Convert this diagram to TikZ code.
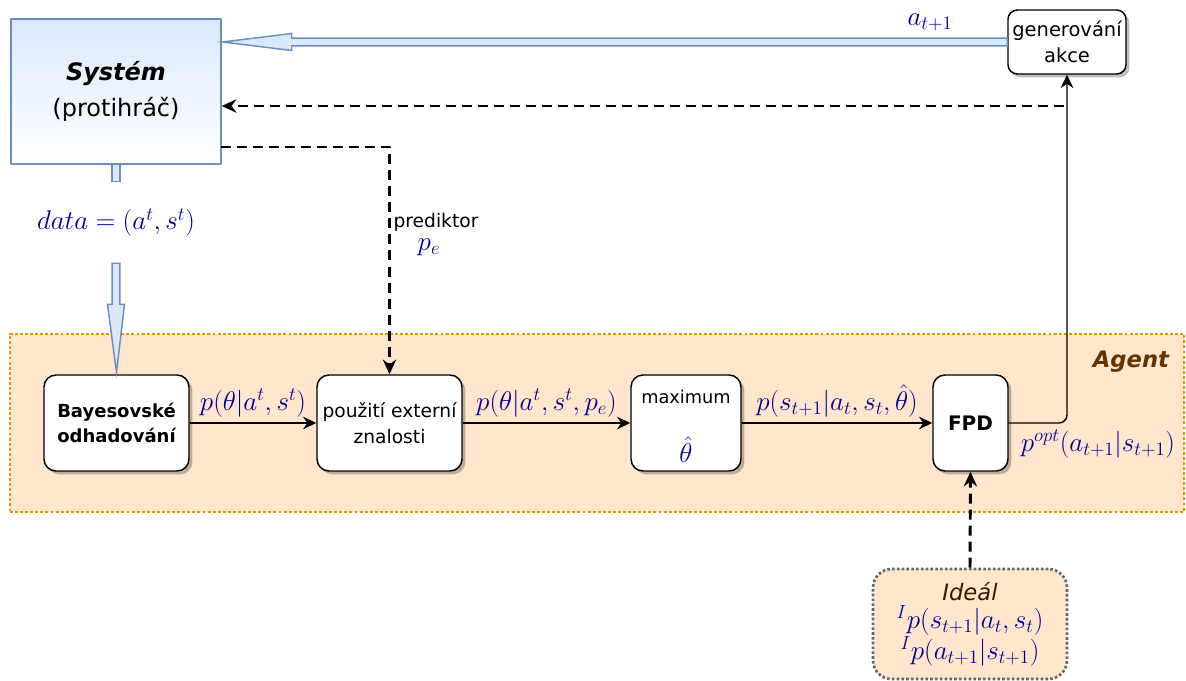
\RequirePackage{fix-cm}
\documentclass[tikz,border=0pt]{standalone}
\usepackage{fontspec}
\setmainfont{DejaVu Sans}
\usetikzlibrary{arrows.meta,calc,shadows}

\definecolor{mathblue}{RGB}{0,0,153}
\definecolor{sysline}{RGB}{108,142,191}
\definecolor{sysfill}{RGB}{218,232,252}
\definecolor{agentfill}{RGB}{255,230,204}
\definecolor{agentline}{RGB}{215,155,0}
\definecolor{agentbrown}{RGB}{102,51,0}
\definecolor{idealbrown}{RGB}{51,26,0}
\definecolor{idealline}{RGB}{102,102,102}

\tikzset{
  box/.style={draw=black, line width=1.1pt, fill=white, rounded corners=9pt,
    align=center, inner sep=2pt, minimum width=108.75pt, minimum height=72pt,
    drop shadow={shadow xshift=2.5pt, shadow yshift=-2.5pt, fill=black, opacity=0.25},
    font=\fontsize{14}{19}\selectfont},
  boldbox/.style={box, font=\fontsize{13.5}{19}\selectfont\bfseries},
  sysbox/.style={draw=sysline, line width=1.1pt, top color=sysfill, bottom color=white,
    minimum width=157.5pt, minimum height=108.75pt, align=center,
    font=\fontsize{18}{27}\selectfont},
  agentbox/.style={draw=agentline, fill=agentfill, line width=2.2pt,
    dash pattern=on 2.2pt off 1.6pt, minimum width=880.5pt, minimum height=133.5pt,
    inner sep=0pt},
  idealbox/.style={draw=idealline, fill=agentfill, line width=2pt,
    dash pattern=on 2pt off 1.6pt, rounded corners=14pt, align=center,
    minimum width=145.5pt, minimum height=82.5pt, inner sep=0pt,
    font=\fontsize{20.3}{21}\selectfont, text=mathblue},
  mathlab/.style={text=mathblue, inner sep=1pt, font=\fontsize{20.3}{22}\selectfont},
  txt/.style={inner sep=1pt, font=\fontsize{14}{19}\selectfont},
  arr/.style={draw, line width=1.1pt, -{Stealth[length=10pt,width=9.5pt]}},
  dasharr/.style={draw, line width=2.2pt, dash pattern=on 7.5pt off 4.5pt,
    -{Stealth[length=11pt,width=10pt]}},
  blockarr/.style={draw=sysline, fill=sysfill, line width=1.1pt, line join=miter},
}

\begin{document}
\begin{tikzpicture}[x=0.75pt,y=-0.75pt,line join=round]
  \useasboundingbox (0,0) rectangle (1186,681);
  %% agent area
  \node[agentbox] (agent) at (597,423) {};
  \node[font=\fontsize{17}{20}\selectfont\bfseries\itshape, text=agentbrown] (agentlbl) at (1131,362) {Agent};
  %% boxes
  \node[sysbox] (sys) at (116,91.5) {\textbf{\textit{Systém}}\\(protihráč)};
  \node[box, minimum width=88.5pt, minimum height=48pt, rounded corners=7pt,
    font=\fontsize{14.6}{19.5}\selectfont] (gen) at (1067,42) {generování\\akce};
  \node[boldbox] (bayes) at (116.5,423) {Bayesovské\\odhadování};
  \node[box] (ext) at (389.5,423) {použití externí\\znalosti};
  \node[box, minimum width=82.5pt] (maxim) at (686,423) {};
  \node[txt, font=\fontsize{13.3}{16}\selectfont] (maxlbl) at (686,397) {maximum};
  \node[mathlab] (thetahat) at (686,450) {$\hat\theta$};
  \node[boldbox, minimum width=56.25pt, font=\fontsize{15}{19}\selectfont\bfseries] (fpd) at (970.5,423) {FPD};
  \node[idealbox] (ideal) at (970,624)
    {{\fontsize{17}{20}\selectfont\itshape\color{idealbrown}Ideál}\\
     ${}^{I}p(s_{t+1}|a_t,s_t)$\\ ${}^{I}p(a_{t+1}|s_{t+1})$};
  \node[mathlab, minimum height=60.75pt] (data) at (116,222.5) {$data=(a^t,s^t)$};
  %% block arrows
  \draw[blockarr] let \p1=(sys.south), \p2=(data.north) in
    (\x1-2.9pt,\y1) rectangle (\x2+2.9pt,\y2);
  \draw[blockarr] let \p1=(data.south), \p2=(bayes.north) in
    (\x1-2.9pt,\y1) -- (\x1-2.9pt,\y2+52.5pt) -- (\x1-6.4pt,\y2+52.5pt) -- (\x2,\y2+1.5pt)
    -- (\x1+6.4pt,\y2+52.5pt) -- (\x1+2.9pt,\y2+52.5pt) -- (\x1+2.9pt,\y1) -- cycle;
  \draw[blockarr] let \p1=(gen.west), \p2=(sys.east) in
    (\x1,\y1+2.9pt) -- (\x2+52.5pt,\y1+2.9pt) -- (\x2+52.5pt,\y1+6.4pt) -- (\x2+0.8pt,\y1)
    -- (\x2+52.5pt,\y1-6.4pt) -- (\x2+52.5pt,\y1-2.9pt) -- (\x1,\y1-2.9pt) -- cycle;
  \node[mathlab] (alab) at (930,22) {$a_{t+1}$};
  %% flow inside agent
  \draw[arr] (bayes) -- node[mathlab, above=3pt] {$p(\theta|a^t,s^t)$} (ext);
  \draw[arr] (ext) -- node[mathlab, above=3pt] {$p(\theta|a^t,s^t,p_e)$} (maxim);
  \draw[arr] (maxim) -- node[mathlab, above=3pt] {$p(s_{t+1}|a_t,s_t,\hat\theta)$} (fpd);
  \draw[arr, rounded corners=6pt] (fpd.east) -| (gen.south);
  \node[mathlab] (popt) at (1098,444) {$p^{opt}(a_{t+1}|s_{t+1})$};
  %% dashed links
  \coordinate (fb) at (1064,106);
  \draw[dasharr] (fb) -- (sys.east |- fb);
  \coordinate (pr) at (221,147);
  \draw[dasharr] (pr) -| (ext.north);
  \node[txt] (predlbl) at (436,222) {prediktor};
  \node[mathlab] (pelbl) at (429,247) {$p_e$};
  \draw[dasharr] (ideal.north) -- (fpd.south);
\end{tikzpicture}
\end{document}
